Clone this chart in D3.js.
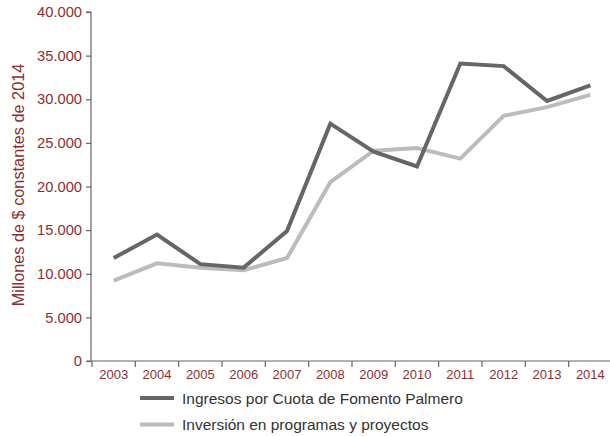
<!DOCTYPE html>
<html><head><meta charset="utf-8">
<script src="https://cdn.jsdelivr.net/npm/d3@7"></script>
<style>body{margin:0;background:#fff}svg{display:block}</style>
</head><body>
<script>
const years = ["2003","2004","2005","2006","2007","2008","2009","2010","2011","2012","2013","2014"];
const ingresos = [11800,14500,11100,10700,14900,27200,24000,22300,34100,33800,29800,31600];
const inversion = [9200,11200,10700,10400,11800,20500,24100,24400,23200,28100,29100,30500];
const seriesNames = ["Ingresos por Cuota de Fomento Palmero","Inversión en programas y proyectos"];
const yTicks = [0,5000,10000,15000,20000,25000,30000,35000,40000];

const W=610,H=436;
const svg=d3.select("body").append("svg").attr("width",W).attr("height",H);
const x=d3.scaleBand().domain(years).range([92,612]);
const y=d3.scaleLinear().domain([0,40000]).range([361,12]);
const red="#8c2f33", axisC="#666";
const FF="Liberation Sans, Arial, sans-serif";
const fmt=d=>d3.format(",")(d).replace(/,/g,".");

const ya=svg.append("g").attr("transform","translate(91,0)")
 .call(d3.axisLeft(y).tickValues(yTicks).tickFormat(fmt).tickSize(5).tickPadding(4));
ya.select(".domain").attr("stroke",axisC).attr("stroke-width",1.2).attr("d","M-5,12H0V361");
ya.selectAll(".tick line").attr("stroke",axisC).attr("stroke-width",1.2);
ya.selectAll("text").attr("fill",red).attr("font-family",FF).attr("font-size",14.7);

const xa=svg.append("g").attr("transform","translate(0,361)")
 .call(d3.axisBottom(x).tickSize(0).tickPadding(9));
xa.select(".domain").attr("stroke",axisC).attr("stroke-width",1.2).attr("d","M87,0H612");
xa.selectAll("text").attr("fill",red).attr("font-family",FF).attr("font-size",13);
xa.selectAll(".tick").append("line").attr("x1",-x.bandwidth()/2).attr("x2",-x.bandwidth()/2).attr("y1",0).attr("y2",6).attr("stroke",axisC).attr("stroke-width",1.2);

svg.append("text").attr("transform","translate(24,185) rotate(-90)").attr("text-anchor","middle")
 .attr("fill",red).attr("font-family",FF).attr("font-size",16.3)
 .text("Millones de $ constantes de 2014");

const line=d3.line().x((d,i)=>x(years[i])+x.bandwidth()/2).y(d=>y(d));
const colors=["#666666","#bcbcbc"];
const data=[ingresos,inversion];
[1,0].forEach(k=>{
 svg.append("path").attr("d",line(data[k])).attr("fill","none").attr("stroke",colors[k]).attr("stroke-width",4).attr("stroke-linejoin","miter");
});

const lg=svg.append("g");
seriesNames.forEach((n,i)=>{
 const yy=398+i*26.5;
 lg.append("line").attr("x1",140).attr("x2",174).attr("y1",yy).attr("y2",yy).attr("stroke",colors[i]).attr("stroke-width",4);
 lg.append("text").attr("x",182).attr("y",yy+5.5).attr("fill","#333").attr("font-family",FF).attr("font-size",15.5).text(n);
});
</script>
</body></html>
